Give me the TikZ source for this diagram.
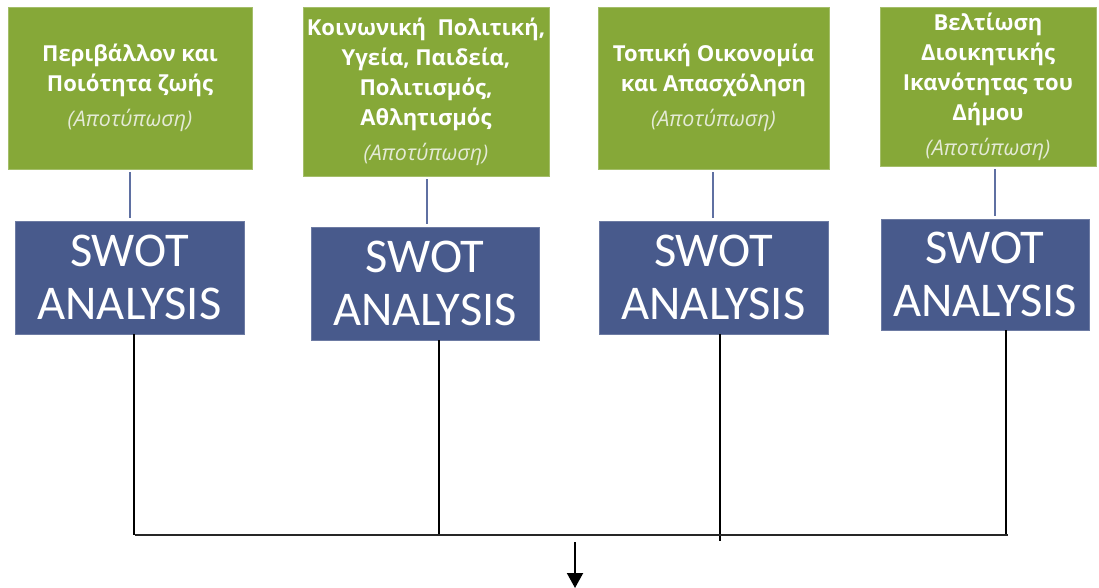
\documentclass[tikz,border=0pt]{standalone}
\usepackage{fontspec}
\setmainfont{Carlito}
\newfontfamily\titlefont{Open Sans}
\usetikzlibrary{arrows.meta}
\definecolor{boxgreen}{RGB}{134,168,56}
\definecolor{boxblue}{RGB}{72,90,140}
\definecolor{linkblue}{RGB}{95,112,162}
\definecolor{subwhite}{RGB}{228,234,214}
\newcommand{\sub}{\\[5pt]{\mdseries\itshape\fontsize{21.5}{25}\selectfont\color{subwhite}(Αποτύπωση)}}
\begin{document}
\begin{tikzpicture}[x=1pt,y=-1pt,
  topic/.style={fill=boxgreen, draw=boxgreen!75!white, line width=0.6pt, inner sep=0pt,
    text=white, align=center, font=\titlefont\fontsize{22}{30}\selectfont\bfseries},
  swot/.style={fill=boxblue, draw=boxblue!80!white, line width=0.6pt, inner sep=0pt,
    text=white, align=center, font=\fontsize{48.5}{53}\selectfont},
  link/.style={draw=linkblue, line width=2pt},
  feed/.style={draw=black, line width=1.4pt},
  bus/.style={draw=black!85, line width=2.6pt},
  outarrow/.style={draw=black, line width=2pt, -{Triangle[width=16pt,length=15pt]}}]
\useasboundingbox (0,0) rectangle (1099,588);
% topic boxes
\node[topic, minimum width=244, minimum height=162] (g1) at (130,88)
  {Περιβάλλον και\\Ποιότητα ζωής\sub};
\node[topic, minimum width=246, minimum height=169] (g2) at (426,91.5)
  {Κοινωνική\ \ Πολιτική,\\Υγεία, Παιδεία,\\Πολιτισμός,\\Αθλητισμός\sub};
\node[topic, minimum width=231, minimum height=162] (g3) at (713.5,88)
  {Τοπική Οικονομία\\και Απασχόληση\sub};
\node[topic, minimum width=216, minimum height=159] (g4) at (988,86.5)
  {Βελτίωση\\Διοικητικής\\Ικανότητας του\\Δήμου\sub};
% SWOT boxes
\node[swot, minimum width=229, minimum height=113] (b1) at (129.5,277.5) {SWOT\\ANALYSIS};
\node[swot, minimum width=228, minimum height=113] (b2) at (425,283.5) {SWOT\\ANALYSIS};
\node[swot, minimum width=229, minimum height=113] (b3) at (713.5,277.5) {SWOT\\ANALYSIS};
\node[swot, minimum width=208, minimum height=111] (b4) at (985,274.5) {SWOT\\ANALYSIS};
% x positions of connectors
\coordinate (c1) at (130,0);
\coordinate (c2) at (427,0);
\coordinate (c3) at (713,0);
\coordinate (c4) at (995,0);
\coordinate (d1) at (134,0);
\coordinate (d2) at (439,0);
\coordinate (d3) at (720,0);
\coordinate (d4) at (1006,0);
% links topic -> swot
\foreach \i in {1,2,3,4}
  \draw[link, shorten <=3pt, shorten >=3pt] (g\i.south -| c\i) -- (b\i.north -| c\i);
% bus
\coordinate (busL) at (135,535);
\coordinate (busR) at (1008,535);
\coordinate (e3) at (720,541);
\draw[feed] (b1.south -| d1) -- (busL -| d1);
\draw[feed] (b2.south -| d2) -- (busL -| d2);
\draw[feed] (b3.south -| d3) -- (e3);
\draw[feed] (b4.south -| d4) -- (busL -| d4);
\draw[bus] (busL) -- (busR);
% output arrow
\coordinate (outS) at (575,542);
\coordinate (outE) at (575,588);
\draw[outarrow] (outS) -- (outE);
\end{tikzpicture}
\end{document}
